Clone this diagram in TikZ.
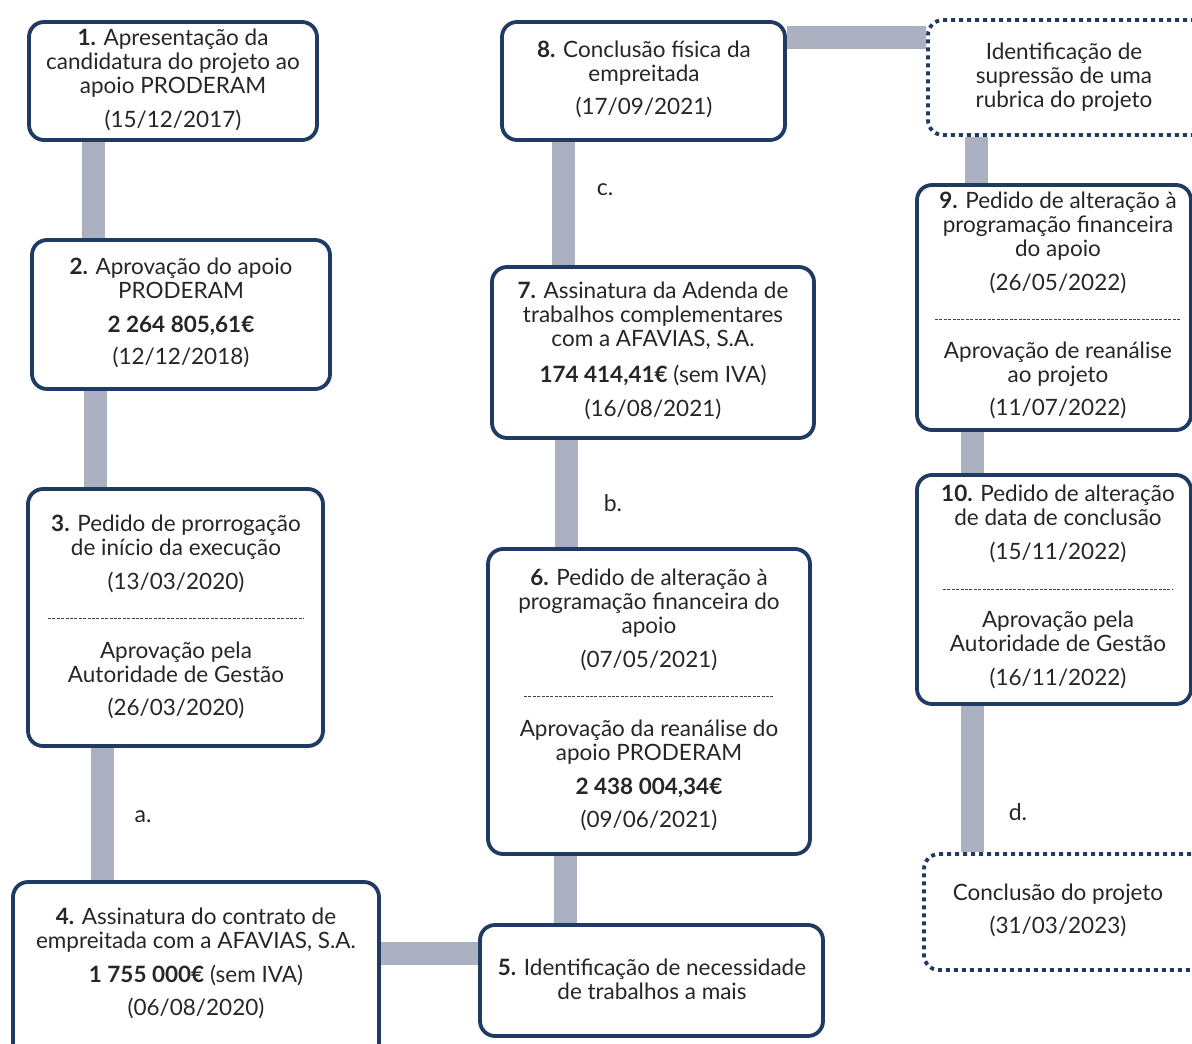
\documentclass[tikz,border=0pt]{standalone}
\usepackage{fontspec}
\setmainfont{Lato}
\definecolor{navy}{HTML}{1F3A63}
\definecolor{barc}{HTML}{ABB1C0}
\definecolor{textc}{HTML}{262626}
\definecolor{sepc}{HTML}{444444}
\pgfdeclarelayer{bg}
\pgfsetlayers{bg,main}
\tikzset{
  box/.style={draw=navy, line width=3.8pt, rounded corners=15pt, fill=white, inner sep=0pt},
  dotbox/.style={draw=navy, line width=3.8pt, rounded corners=15pt, fill=white, inner sep=0pt, dash pattern=on 4pt off 4pt},
  bar/.style={draw=barc, line width=23pt},
  txt/.style={align=center, font=\fontsize{22.5}{24}\selectfont, text=textc, inner sep=0pt},
  lbl/.style={font=\fontsize{23}{24}\selectfont, text=textc, inner sep=0pt},
  sep/.style={draw=sepc, line width=0.8pt, dash pattern=on 3pt off 1.4pt}
}
\begin{document}
\begin{tikzpicture}[x=1pt,y=-1pt]
\useasboundingbox (0,0) rectangle (1192,1044);
\clip (0,0) rectangle (1192,1044);
% bar coordinates
\coordinate (x12) at (93,0);
\coordinate (x23) at (95,0);
\coordinate (x34) at (102,0);
\coordinate (y45) at (0,953);
\coordinate (x56) at (565,0);
\coordinate (x67) at (566,0);
\coordinate (x78) at (563,0);
\coordinate (y8i) at (0,37);
\coordinate (xi9) at (976,0);
\coordinate (x910) at (972,0);
% boxes
\node[box, minimum width=288pt, minimum height=118pt] (b1) at (173,81) {};
\node[box, minimum width=298pt, minimum height=149pt] (b2) at (181,314.5) {};
\node[box, minimum width=295pt, minimum height=257pt] (b3) at (175.5,617.5) {};
\node[box, minimum width=366pt, minimum height=180pt] (b4) at (196,972) {};
\node[box, minimum width=343pt, minimum height=111pt] (b5) at (651.5,980.5) {};
\node[box, minimum width=322pt, minimum height=305pt] (b6) at (649,701.5) {};
\node[box, minimum width=322pt, minimum height=171pt] (b7) at (653,352.5) {};
\node[box, minimum width=283pt, minimum height=118pt] (b8) at (643.5,81) {};
\node[dotbox, minimum width=290pt, minimum height=115pt] (bi) at (1073,77.5) {};
\node[box, minimum width=274pt, minimum height=245pt] (b9) at (1054,307.5) {};
\node[box, minimum width=274pt, minimum height=229pt] (b10) at (1054,589.5) {};
\node[dotbox, minimum width=290pt, minimum height=116pt] (bc) at (1069,912) {};
% connectors (behind boxes)
\begin{pgfonlayer}{bg}
\draw[bar] (b1.south -| x12) -- (b2.north -| x12);
\draw[bar] (b2.south -| x23) -- (b3.north -| x23);
\draw[bar] (b3.south -| x34) -- (b4.north -| x34);
\draw[bar] (b4.east |- y45) -- (b5.west |- y45);
\draw[bar] (b5.north -| x56) -- (b6.south -| x56);
\draw[bar] (b6.north -| x67) -- (b7.south -| x67);
\draw[bar] (b7.north -| x78) -- (b8.south -| x78);
\draw[bar] (b8.east |- y8i) -- (bi.west |- y8i);
\draw[bar] (bi.south -| xi9) -- (b9.north -| xi9);
\draw[bar] (b9.south -| x910) -- (b10.north -| x910);
\draw[bar] (b10.south -| x910) -- (bc.north -| x910);
\end{pgfonlayer}
% separators
\draw[sep] (48,618) -- (304,618);
\draw[sep] (524,696) -- (774,696);
\draw[sep] (935,319) -- (1180,319);
\draw[sep] (943,589) -- (1172,589);
% texts
\node[txt] (t1) at (173,80) {\textbf{1.} Apresentação da\\candidatura do projeto ao\\apoio PRODERAM\\[10pt](15/12/2017)};
\node[txt] (t2) at (181,313) {\textbf{2.} Aprovação do apoio\\PRODERAM\\[10pt]\textbf{2 264 805,61€}\\[8pt](12/12/2018)};
\node[txt] (t3a) at (176,554) {\textbf{3.} Pedido de prorrogação\\de início da execução\\[10pt](13/03/2020)};
\node[txt] (t3b) at (176,680) {Aprovação pela\\Autoridade de Gestão\\[9pt](26/03/2020)};
\node[txt] (t4) at (196,963) {\textbf{4.} Assinatura do contrato de\\empreitada com a AFAVIAS, S.A.\\[10pt]\textbf{1 755 000€} (sem IVA)\\[9pt](06/08/2020)};
\node[txt] (t5) at (652,979) {\textbf{5.} Identificação de necessidade\\de trabalhos a mais};
\node[txt] (t6a) at (649,620) {\textbf{6.} Pedido de alteração à\\programação financeira do\\apoio\\[10pt](07/05/2021)};
\node[txt] (t6b) at (649,775) {Aprovação da reanálise do\\apoio PRODERAM\\[10pt]\textbf{2 438 004,34€}\\[9pt](09/06/2021)};
\node[txt] (t7) at (653,351) {\textbf{7.} Assinatura da Adenda de\\trabalhos complementares\\com a AFAVIAS, S.A.\\[12pt]\textbf{174 414,41€} (sem IVA)\\[10pt](16/08/2021)};
\node[txt] (t8) at (644,79.5) {\textbf{8.} Conclusão física da\\empreitada\\[9pt](17/09/2021)};
\node[txt] (ti) at (1064,77) {Identificação de\\supressão de uma\\rubrica do projeto};
\node[txt] (t9a) at (1058,243) {\textbf{9.} Pedido de alteração à\\programação financeira\\do apoio\\[10pt](26/05/2022)};
\node[txt] (t9b) at (1058,380.5) {Aprovação de reanálise\\ao projeto\\[9pt](11/07/2022)};
\node[txt] (t10a) at (1058,524) {\textbf{10.} Pedido de alteração\\de data de conclusão\\[10pt](15/11/2022)};
\node[txt] (t10b) at (1058,650) {Aprovação pela\\Autoridade de Gestão\\[10pt](16/11/2022)};
\node[txt] (tc) at (1058,910.5) {Conclusão do projeto\\[9pt](31/03/2023)};
% labels
\node[lbl] (la) at (143,817) {a.};
\node[lbl] (lb) at (613,503) {b.};
\node[lbl] (lc) at (605,190) {c.};
\node[lbl] (ld) at (1018,812) {d.};
\end{tikzpicture}
\end{document}
